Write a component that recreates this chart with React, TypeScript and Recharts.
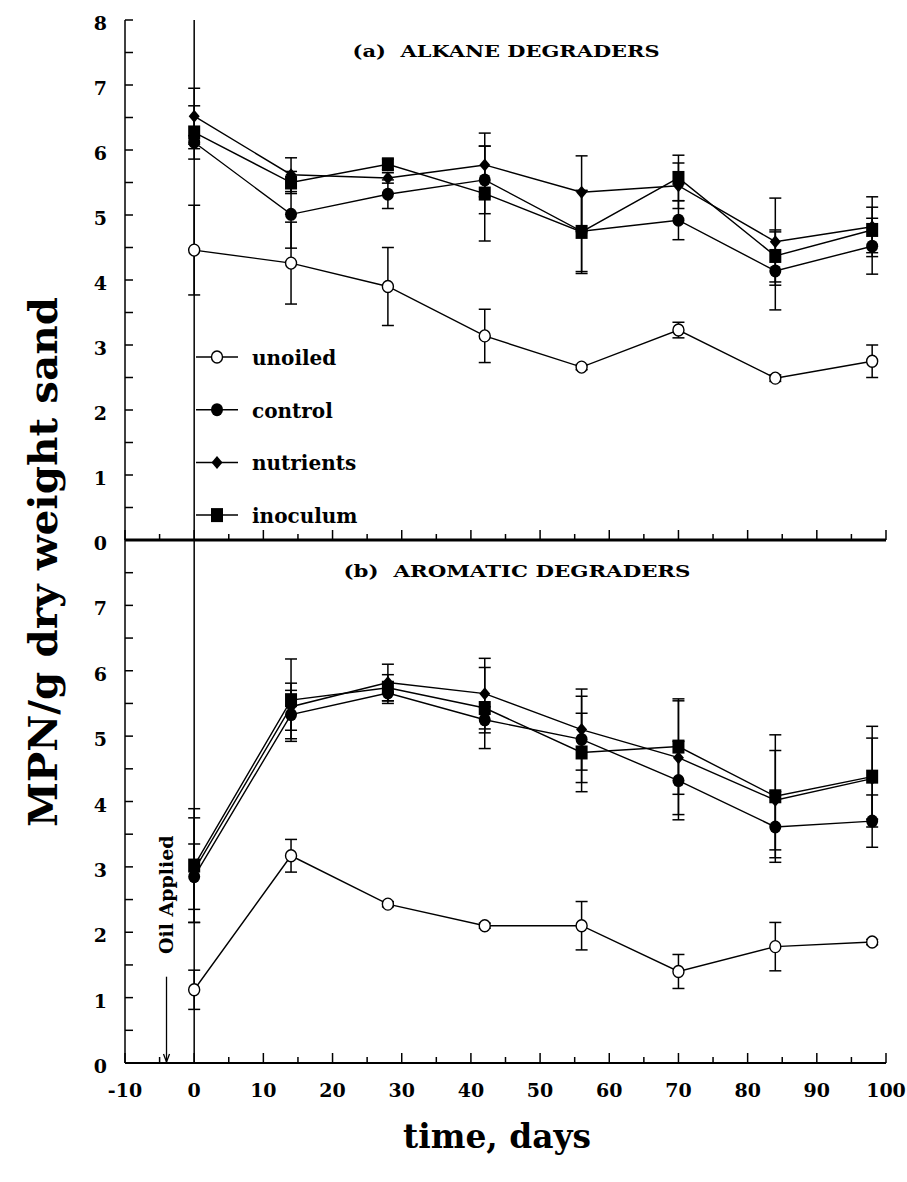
import React from 'react';
import { LineChart, Line, XAxis, YAxis, ErrorBar, ReferenceLine, Legend } from 'recharts';

// sampling days
const days = [0, 14, 28, 42, 56, 70, 84, 98];
const seriesNames = ['unoiled', 'control', 'nutrients', 'inoculum'];

// (a) ALKANE DEGRADERS  (log MPN/g)
const alkUnoiled = [4.46, 4.26, 3.9, 3.14, 2.66, 3.23, 2.49, 2.75];
const alkUnoiledErr = [0.69, 0.63, 0.6, 0.41, 0.04, 0.12, 0.05, 0.25];
const alkControl = [6.12, 5.01, 5.32, 5.54, 4.75, 4.92, 4.14, 4.52];
const alkControlErr = [0.1, 0.52, 0.22, 0.52, 0.62, 0.3, 0.6, 0.43];
const alkNutrients = [6.52, 5.62, 5.57, 5.77, 5.35, 5.45, 4.59, 4.82];
const alkNutrientsErr = [0.43, 0.26, 0.08, 0.49, 0.56, 0.35, 0.67, 0.46];
const alkInoculum = [6.27, 5.5, 5.78, 5.33, 4.74, 5.57, 4.37, 4.77];
const alkInoculumErr = [0.41, 0.17, 0.08, 0.73, 0.64, 0.35, 0.4, 0.35];

// (b) AROMATIC DEGRADERS
const aroUnoiled = [1.12, 3.17, 2.43, 2.1, 2.1, 1.4, 1.78, 1.85];
const aroUnoiledErr = [0.3, 0.25, 0.04, 0.04, 0.37, 0.26, 0.37, 0.04];
const aroControl = [2.85, 5.33, 5.66, 5.25, 4.95, 4.32, 3.61, 3.7];
const aroControlErr = [0.5, 0.37, 0.16, 0.2, 0.66, 0.6, 0.54, 0.4];
const aroNutrients = [2.95, 5.45, 5.82, 5.65, 5.1, 4.67, 4.02, 4.35];
const aroNutrientsErr = [0.8, 0.36, 0.28, 0.54, 0.62, 0.87, 0.76, 0.62];
const aroInoculum = [3.02, 5.55, 5.74, 5.43, 4.75, 4.84, 4.08, 4.38];
const aroInoculumErr = [0.87, 0.63, 0.2, 0.62, 0.6, 0.73, 0.94, 0.77];

// axis ticks
const xMajorTicks = [-10, 0, 10, 20, 30, 40, 50, 60, 70, 80, 90, 100];
const xMinorTicks = [-5, 5, 15, 25, 35, 45, 55, 65, 75, 85, 95];
const yLabelsA = [0, 1, 2, 3, 4, 5, 6, 7, 8];
const yLabelsB = [0, 1, 2, 3, 4, 5, 6, 7];
const yMinorTicks = [0.5, 1.5, 2.5, 3.5, 4.5, 5.5, 6.5, 7.5];

// annotation
const oilAppliedDay = -4;
const oilArrowTop = 1.32;

const panelTitleA = '(a)\u00A0 ALKANE DEGRADERS';
const panelTitleB = '(b)\u00A0 AROMATIC DEGRADERS';
const yTitle = 'MPN/g dry weight sand';
const xTitle = 'time, days';
const oilLabel = 'Oil Applied';

const FONT = '"DejaVu Serif", serif';

const xTicks = [...xMajorTicks, ...xMinorTicks].sort((a, b) => a - b);
const yTicksA = [...yLabelsA, ...yMinorTicks].sort((a, b) => a - b);
const yTicksB = [...yLabelsB, ...yMinorTicks].sort((a, b) => a - b);

const buildRows = (u: number[], ue: number[], c: number[], ce: number[], n: number[], ne: number[], i: number[], ie: number[]) =>
  days.map((d, k) => ({
    day: d,
    unoiled: u[k], unoiledErr: ue[k],
    control: c[k], controlErr: ce[k],
    nutrients: n[k], nutrientsErr: ne[k],
    inoculum: i[k], inoculumErr: ie[k],
  }));

const dataA = buildRows(alkUnoiled, alkUnoiledErr, alkControl, alkControlErr, alkNutrients, alkNutrientsErr, alkInoculum, alkInoculumErr);
const dataB = buildRows(aroUnoiled, aroUnoiledErr, aroControl, aroControlErr, aroNutrients, aroNutrientsErr, aroInoculum, aroInoculumErr);

// markers
const drawMarker = (name: string, cx: number, cy: number, key?: any) => {
  if (cx == null || cy == null) return <g key={key} />;
  switch (name) {
    case 'unoiled':
      return <ellipse key={key} cx={cx} cy={cy} rx={5.5} ry={6} fill="#fff" stroke="#000" strokeWidth={1.4} />;
    case 'control':
      return <ellipse key={key} cx={cx} cy={cy} rx={6} ry={6.5} fill="#000" />;
    case 'nutrients':
      return <polygon key={key} points={`${cx},${cy - 6.5} ${cx + 5.5},${cy} ${cx},${cy + 6.5} ${cx - 5.5},${cy}`} fill="#000" />;
    default:
      return <rect key={key} x={cx - 6} y={cy - 7} width={12} height={14} fill="#000" />;
  }
};

const dotFor = (name: string) => (props: any) => drawMarker(name, props.cx, props.cy, props.index);

const makeXTick = (showLabels: boolean) => (props: any) => {
  const { x, y, payload } = props;
  const v = payload.value;
  const major = xMajorTicks.includes(v);
  const len = major ? 10 : 6;
  return (
    <g>
      <line x1={x} y1={y} x2={x} y2={y - len} stroke="#000" strokeWidth={1.5} />
      {showLabels && major && (
        <text x={x} y={y + 34} textAnchor="middle" fontFamily={FONT} fontWeight="bold" fontSize={19} fill="#000">
          {String(v)}
        </text>
      )}
    </g>
  );
};

const makeYTick = (labels: number[]) => (props: any) => {
  const { x, y, payload } = props;
  const v = payload.value;
  return (
    <g>
      <line x1={x} y1={y} x2={x + 8} y2={y} stroke="#000" strokeWidth={1.5} />
      {labels.includes(v) && (
        <text x={x - 18} y={y + 10} textAnchor="end" fontFamily={FONT} fontWeight="bold" fontSize={19} fill="#000">
          {String(v)}
        </text>
      )}
    </g>
  );
};

const renderLegend = () => (
  <svg width={200} height={215} style={{ overflow: 'visible' }}>
    {seriesNames.map((name, i) => {
      const cy = 26 + i * 52.7;
      return (
        <g key={name}>
          <line x1={10} x2={52} y1={cy} y2={cy} stroke="#000" strokeWidth={1.5} />
          {drawMarker(name, 31, cy)}
          <text x={66} y={cy + 8} fontFamily={FONT} fontWeight="bold" fontSize={20} fill="#000">
            {name}
          </text>
        </g>
      );
    })}
  </svg>
);

const renderArrow = (props: any) => {
  const { x1, y1, x2, y2 } = props;
  return (
    <g>
      <line x1={x1} y1={y1} x2={x2} y2={y2 - 1} stroke="#000" strokeWidth={1.3} />
      <polyline points={`${x2 - 3},${y2 - 9} ${x2},${y2 - 1} ${x2 + 3},${y2 - 9}`} fill="none" stroke="#000" strokeWidth={1.3} />
      <text
        transform={`translate(${x1 + 6},${y1 - 82}) rotate(-90)`}
        textAnchor="middle"
        fontFamily={FONT}
        fontWeight="bold"
        fontSize={19}
        fill="#000"
      >
        {oilLabel}
      </text>
    </g>
  );
};

const seriesLines = () =>
  seriesNames.map((name) => (
    <Line
      key={name}
      type="linear"
      dataKey={name}
      stroke="#000"
      strokeWidth={1.4}
      dot={dotFor(name)}
      activeDot={false}
      isAnimationActive={false}
    >
      <ErrorBar dataKey={`${name}Err`} direction="y" width={6} stroke="#000" strokeWidth={1.5} isAnimationActive={false} />
    </Line>
  ));

const CHART_W = 907;
const PLOT_LEFT = 125;
const PLOT_RIGHT_MARGIN = 21;

export default function App() {
  return (
    <div style={{ position: 'relative', width: CHART_W, height: 1182, background: '#fff', overflow: 'hidden' }}>
      <style>{'html,body{margin:0;padding:0;}'}</style>
      {/* Panel (a) */}
      <div style={{ position: 'absolute', left: 0, top: 0 }}>
        <LineChart width={CHART_W} height={560} data={dataA} margin={{ top: 20, right: PLOT_RIGHT_MARGIN, bottom: 0, left: 0 }}>
          <XAxis
            type="number"
            scale="linear"
            dataKey="day"
            domain={[-10, 100]}
            padding={{ left: 0, right: 0 }}
            ticks={xTicks}
            interval={0}
            height={20}
            tickSize={0}
            tickMargin={0}
            tickLine={false}
            axisLine={{ stroke: '#000', strokeWidth: 3 }}
            tick={makeXTick(false)}
          />
          <XAxis xAxisId="top" orientation="top" type="number" domain={[-10, 100]} height={0} tick={false} tickLine={false} axisLine={{ stroke: '#000', strokeWidth: 2 }} />
          <YAxis
            type="number"
            domain={[0, 8]}
            ticks={yTicksA}
            interval={0}
            allowDataOverflow
            width={PLOT_LEFT}
            tickSize={0}
            tickMargin={0}
            tickLine={false}
            axisLine={{ stroke: '#000', strokeWidth: 1.5 }}
            tick={makeYTick(yLabelsA)}
          />
          <YAxis yAxisId="right" orientation="right" domain={[0, 8]} width={0} tick={false} tickLine={false} axisLine={{ stroke: '#222', strokeWidth: 2 }} />
          <ReferenceLine x={0} stroke="#000" strokeWidth={1.5} />
          {seriesLines()}
          <Legend
            layout="vertical"
            align="center"
            verticalAlign="middle"
            content={renderLegend}
            wrapperStyle={{ left: 186, top: 331, width: 200, height: 215 }}
          />
        </LineChart>
      </div>
      {/* Panel (b) */}
      <div style={{ position: 'absolute', left: 0, top: 540 }}>
        <LineChart width={CHART_W} height={560} data={dataB} margin={{ top: 0, right: PLOT_RIGHT_MARGIN, bottom: 0, left: 0 }}>
          <XAxis
            type="number"
            scale="linear"
            dataKey="day"
            domain={[-10, 100]}
            padding={{ left: 0, right: 0 }}
            ticks={xTicks}
            interval={0}
            height={37}
            tickSize={0}
            tickMargin={0}
            tickLine={false}
            axisLine={{ stroke: '#000', strokeWidth: 2 }}
            tick={makeXTick(true)}
          />
          <YAxis
            type="number"
            domain={[0, 8]}
            ticks={yTicksB}
            interval={0}
            allowDataOverflow
            width={PLOT_LEFT}
            tickSize={0}
            tickMargin={0}
            tickLine={false}
            axisLine={{ stroke: '#000', strokeWidth: 1.5 }}
            tick={makeYTick(yLabelsB)}
          />
          <YAxis yAxisId="right" orientation="right" domain={[0, 8]} width={0} tick={false} tickLine={false} axisLine={{ stroke: '#222', strokeWidth: 2 }} />
          <ReferenceLine x={0} stroke="#000" strokeWidth={1.5} />
          <ReferenceLine
            segment={[{ x: oilAppliedDay, y: oilArrowTop }, { x: oilAppliedDay, y: 0 }]}
            shape={renderArrow}
          />
          {seriesLines()}
        </LineChart>
      </div>
      {/* titles */}
      <svg width={CHART_W} height={1182} style={{ position: 'absolute', left: 0, top: 0, pointerEvents: 'none' }}>
        <text x={506} y={57} textAnchor="middle" fontFamily={FONT} fontWeight="bold" fontSize={17} textLength={307} lengthAdjust="spacingAndGlyphs">
          {panelTitleA}
        </text>
        <text x={517} y={577} textAnchor="middle" fontFamily={FONT} fontWeight="bold" fontSize={17} textLength={347} lengthAdjust="spacingAndGlyphs">
          {panelTitleB}
        </text>
        <text
          transform="translate(57,562) rotate(-90)"
          textAnchor="middle"
          fontFamily={FONT}
          fontWeight="bold"
          fontSize={40}
          textLength={530}
          lengthAdjust="spacingAndGlyphs"
        >
          {yTitle}
        </text>
        <text x={497} y={1148} textAnchor="middle" fontFamily={FONT} fontWeight="bold" fontSize={33} textLength={188} lengthAdjust="spacingAndGlyphs">
          {xTitle}
        </text>
      </svg>
    </div>
  );
}
